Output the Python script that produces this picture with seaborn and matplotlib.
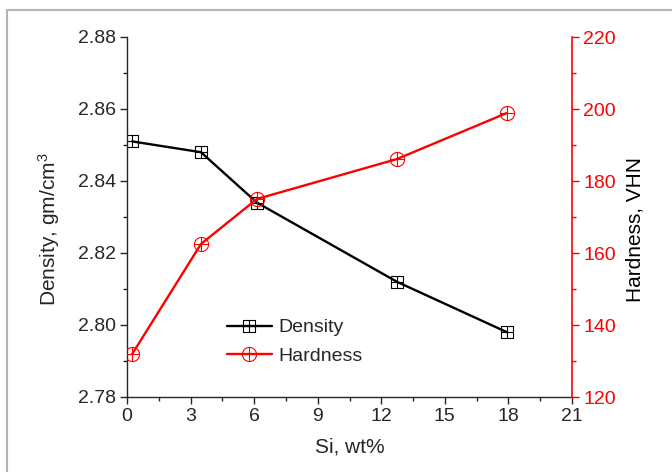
import matplotlib
matplotlib.use("Agg")
import matplotlib.pyplot as plt
import seaborn as sns
import numpy as np
import pandas as pd
from matplotlib.path import Path
from matplotlib.lines import Line2D
from matplotlib.ticker import MultipleLocator, FormatStrFormatter

# Data
si = [0.24, 3.49, 6.13, 12.74, 17.93]
density = [2.851, 2.848, 2.834, 2.812, 2.798]
hardness = [131.9, 162.5, 175.0, 186.1, 198.9]

sns.set_style("ticks")
plt.rcParams['font.family'] = ['Liberation Sans', 'DejaVu Sans']
plt.rcParams['mathtext.fontset'] = 'custom'
plt.rcParams['mathtext.rm'] = 'Liberation Sans'
plt.rcParams['mathtext.it'] = 'Liberation Sans:italic'

# custom markers
sq = Path([(-1, -1), (1, -1), (1, 1), (-1, 1), (-1, -1), (-1, 0), (1, 0), (0, -1), (0, 1)],
          [Path.MOVETO, Path.LINETO, Path.LINETO, Path.LINETO, Path.CLOSEPOLY,
           Path.MOVETO, Path.LINETO, Path.MOVETO, Path.LINETO])
circ = Path.unit_circle()
cross = Path([(-1, 0), (1, 0), (0, -1), (0, 1)],
             [Path.MOVETO, Path.LINETO, Path.MOVETO, Path.LINETO])
circx = Path.make_compound_path(circ, cross)

fig = plt.figure(figsize=(6.72, 4.72), dpi=100)
ax = fig.add_axes([127/672, 1-397/472, 445/672, 360/472])
ax2 = ax.twinx()

df = pd.DataFrame({"Si": si, "Density": density, "Hardness": hardness})

sns.lineplot(data=df, x="Si", y="Density", ax=ax, color="black", lw=1.7,
             marker=sq, markersize=9.2, markerfacecolor="none",
             markeredgecolor="black", markeredgewidth=0.8, legend=False)
sns.lineplot(data=df, x="Si", y="Hardness", ax=ax2, color="red", lw=1.7,
             marker=circx, markersize=10.2, markerfacecolor="none",
             markeredgecolor="red", markeredgewidth=0.8, legend=False)

ax.set_xlim(0, 21)
ax.set_ylim(2.78, 2.88)
ax2.set_ylim(120, 220)
ax.xaxis.set_major_locator(MultipleLocator(3))
ax.xaxis.set_minor_locator(MultipleLocator(1.5))
ax.yaxis.set_major_locator(MultipleLocator(0.02))
ax.yaxis.set_minor_locator(MultipleLocator(0.01))
ax.yaxis.set_major_formatter(FormatStrFormatter('%.2f'))
ax2.yaxis.set_major_locator(MultipleLocator(20))
ax2.yaxis.set_minor_locator(MultipleLocator(10))

for a in (ax, ax2):
    a.spines['top'].set_visible(False)
    a.tick_params(which='major', direction='out', length=5, width=1, labelsize=14, pad=3)
    a.tick_params(which='minor', direction='out', length=2.7, width=1)
ax.spines['right'].set_visible(False)
ax2.spines['left'].set_visible(False)
ax2.spines['bottom'].set_visible(False)
ax.spines['left'].set_linewidth(1)
ax.spines['bottom'].set_linewidth(1)
ax2.spines['right'].set_color('red')
ax2.spines['right'].set_linewidth(1.2)
ax2.tick_params(axis='y', which='both', colors='red', labelcolor='red')

ax.set_xlabel("Si, wt%", fontsize=15, labelpad=9)
ax.set_ylabel("Density, gm/cm$^3$", fontsize=15, labelpad=11)
ax2.set_ylabel("Hardness, VHN", fontsize=15, labelpad=7, color='black')
ax.yaxis.label.set_y(0.465)
ax2.yaxis.label.set_y(0.465)

h1 = Line2D([], [], color='black', lw=1.7, marker=sq, markersize=9.2,
            markerfacecolor='none', markeredgecolor='black', markeredgewidth=0.8)
h2 = Line2D([], [], color='red', lw=1.7, marker=circx, markersize=10.2,
            markerfacecolor='none', markeredgecolor='red', markeredgewidth=0.8)
ax.legend([h1, h2], ["Density", "Hardness"], loc='upper left',
          bbox_to_anchor=(0.225, 0.217), frameon=False, fontsize=14,
          handlelength=2.3, handletextpad=0.35, borderpad=0, borderaxespad=0,
          labelspacing=0.55)

# outer gray frame
fig.add_artist(Line2D([7/672, 7/672], [-0.1, 1-10/472], transform=fig.transFigure,
                      color='#b4b4b4', lw=1.5))
fig.add_artist(Line2D([7/672, 1.1], [1-10/472, 1-10/472], transform=fig.transFigure,
                      color='#b4b4b4', lw=1.5))

fig.savefig("out.png", dpi=100)
